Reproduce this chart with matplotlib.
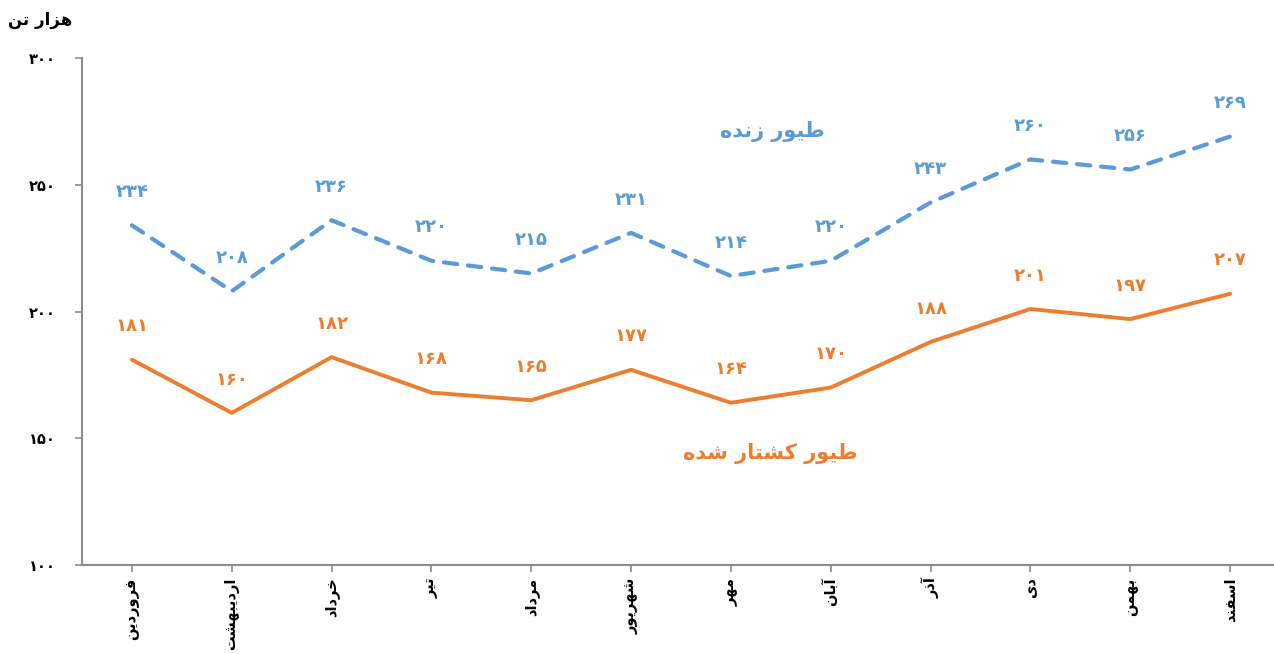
import matplotlib
matplotlib.use("Agg")
import matplotlib.pyplot as plt

# ---------------- data ----------------
months = ["فروردین", "اردیبهشت", "خرداد", "تیر", "مرداد", "شهریور",
          "مهر", "آبان", "آذر", "دی", "بهمن", "اسفند"]
live_poultry = [234, 208, 236, 220, 215, 231, 214, 220, 243, 260, 256, 269]
slaughtered_poultry = [181, 160, 182, 168, 165, 177, 164, 170, 188, 201, 197, 207]
yticks = [100, 150, 200, 250, 300]
unit_label = "هزار تن"
live_label = "طیور زنده"
slaughtered_label = "طیور کشتار شده"

# ------------- minimal Persian shaping -------------
DUAL = {
    'ب': (0xFE8F, 0xFE90, 0xFE91, 0xFE92), 'ت': (0xFE95, 0xFE96, 0xFE97, 0xFE98),
    'خ': (0xFEA5, 0xFEA6, 0xFEA7, 0xFEA8), 'س': (0xFEB1, 0xFEB2, 0xFEB3, 0xFEB4),
    'ش': (0xFEB5, 0xFEB6, 0xFEB7, 0xFEB8), 'ط': (0xFEC1, 0xFEC2, 0xFEC3, 0xFEC4),
    'ف': (0xFED1, 0xFED2, 0xFED3, 0xFED4), 'م': (0xFEE1, 0xFEE2, 0xFEE3, 0xFEE4),
    'ن': (0xFEE5, 0xFEE6, 0xFEE7, 0xFEE8), 'ه': (0xFEE9, 0xFEEA, 0xFEEB, 0xFEEC),
    'ی': (0xFEEF, 0xFEF0, 0xFEF3, 0xFEF4), 'ک': (0xFB8E, 0xFB8F, 0xFB90, 0xFB91),
}
RIGHT = {
    'ا': (0xFE8D, 0xFE8E), 'آ': (0xFE81, 0xFE82), 'د': (0xFEA9, 0xFEAA),
    'ذ': (0xFEAB, 0xFEAC), 'ر': (0xFEAD, 0xFEAE), 'ز': (0xFEAF, 0xFEB0),
    'و': (0xFEED, 0xFEEE),
}


def shape(s):
    out = []
    for i, c in enumerate(s):
        if c not in DUAL and c not in RIGHT:
            out.append(c)
            continue
        prev = s[i - 1] if i > 0 else None
        nxt = s[i + 1] if i + 1 < len(s) else None
        jp = prev in DUAL
        jn = c in DUAL and nxt is not None and (nxt in DUAL or nxt in RIGHT)
        if c in RIGHT:
            f = RIGHT[c]
            out.append(chr(f[1] if jp else f[0]))
        else:
            f = DUAL[c]
            if jp and jn:
                out.append(chr(f[3]))
            elif jp:
                out.append(chr(f[1]))
            elif jn:
                out.append(chr(f[2]))
            else:
                out.append(chr(f[0]))
    return ''.join(out)[::-1]


def fa_num(n):
    return str(n).translate(str.maketrans("0123456789", "۰۱۲۳۴۵۶۷۸۹"))


plt.rcParams['font.family'] = ['DejaVu Sans']

BLUE = "#5B9BD5"
ORANGE = "#ED7D31"
GRAY = "#8C8C8C"

fig = plt.figure(figsize=(12.74, 6.54), dpi=100)
W, H = 1274, 654
ax = fig.add_axes([82 / W, (H - 565) / H, (1280 - 82) / W, (565 - 58) / H])

x = list(range(len(months)))
ax.plot(x, slaughtered_poultry, color=ORANGE, lw=2.8, solid_capstyle='round',
        solid_joinstyle='round')
ax.plot(x, live_poultry, color=BLUE, lw=3.0, linestyle=(0, (3.2, 2.6)),
        dash_capstyle='round', dash_joinstyle='round')

for xi, v in zip(x, live_poultry):
    ax.annotate(fa_num(v), (xi, v), xytext=(0, 24), textcoords='offset points',
                ha='center', va='center', color=BLUE, fontsize=13, fontweight='bold')
for xi, v in zip(x, slaughtered_poultry):
    ax.annotate(fa_num(v), (xi, v), xytext=(0, 24), textcoords='offset points',
                ha='center', va='center', color=ORANGE, fontsize=13, fontweight='bold')

ax.set_xlim(-0.5, len(months) - 0.5)
ax.set_ylim(100, 300)
ax.set_yticks(yticks)
ax.set_yticklabels([fa_num(t) for t in yticks], fontweight='bold', fontsize=10.5)
ax.set_xticks(x)
ax.set_xticklabels([shape(m) for m in months], rotation=90, fontweight='bold',
                   fontsize=10.5, ha='center', va='top')

for s in ['top', 'right']:
    ax.spines[s].set_visible(False)
for s in ['left', 'bottom']:
    ax.spines[s].set_color(GRAY)
    ax.spines[s].set_linewidth(1.5)
ax.tick_params(axis='both', color=GRAY, width=1.2, length=5, pad=14)
ax.tick_params(axis='x', pad=4)

fig.text(772 / W, 1 - 131 / H, shape(live_label), color=BLUE,
         fontsize=15, fontweight='bold', ha='center', va='center')
fig.text(770 / W, 1 - 453 / H, shape(slaughtered_label), color=ORANGE,
         fontsize=15, fontweight='bold', ha='center', va='center')
fig.text(40 / W, 1 - 20 / H, shape(unit_label), color='black',
         fontsize=12, fontweight='bold', ha='center', va='center')

fig.savefig("out.png", dpi=100)
